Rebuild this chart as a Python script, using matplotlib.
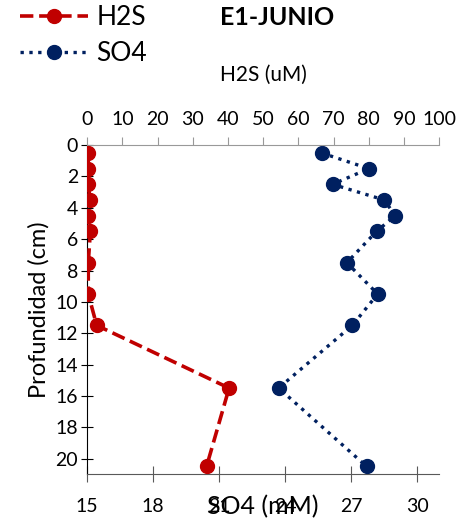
import matplotlib
matplotlib.use("Agg")
import matplotlib.pyplot as plt
import numpy as np

plt.rcParams["font.family"] = ["Lato", "DejaVu Sans"]

RED, NAVY = "#C00000", "#002060"

# depth profile, station E1 (June)
depth = [0.5, 1.5, 2.5, 3.5, 4.5, 5.5, 7.5, 9.5, 11.5, 15.5, 20.5]
h2s_um = [0.3, 0.3, 0.3, 0.8, 0.3, 0.9, 0.3, 0.3, 2.7, 40.3, 33.9]
so4_mm = [25.65, 27.8, 26.15, 28.5, 29.0, 28.15, 26.8, 28.2, 27.05, 23.7, 27.7]

h2s_ticks = np.arange(0, 101, 10)
so4_ticks = [15, 18, 21, 24, 27, 30]
depth_ticks = np.arange(0, 21, 2)

fig = plt.figure(figsize=(4.59, 5.22), dpi=100)
ax = fig.add_axes([0.190, 0.0914, 0.767, 0.6306])
ax2 = ax.twiny()

# SO4 on the bottom axis
l_so4, = ax.plot(so4_mm, depth, ":", color=NAVY, lw=2.4, marker="o", ms=10,
                 markeredgecolor=NAVY, label="SO4", zorder=3)
ax.set_xlim(15, 31)
ax.set_ylim(21, 0)
ax.set_xticks(so4_ticks)
ax.set_yticks(depth_ticks)
ax.tick_params(axis="x", direction="inout", length=12, color="0.35",
               labelsize=14, pad=11)
ax.tick_params(axis="y", direction="inout", length=9, color="black",
               labelsize=14, pad=2)
ax.spines["right"].set_visible(False)
ax.spines["top"].set_visible(False)
ax.spines["bottom"].set_color("0.35")
ax.spines["left"].set_color("black")
ax.set_xlabel("SO4 (mM)", fontsize=18, labelpad=-14)
ax.set_ylabel("Profundidad (cm)", fontsize=17, labelpad=4)

# H2S on the top axis
l_h2s, = ax2.plot(h2s_um, depth, "--", color=RED, lw=2.6, marker="o", ms=10,
                  markeredgecolor=RED, label="H2S", zorder=3)
ax2.set_xlim(0, 100)
ax2.set_xticks(h2s_ticks)
ax2.tick_params(axis="x", direction="out", length=6, color="0.6",
                labelsize=14, pad=6)
for s in ("right", "bottom", "left"):
    ax2.spines[s].set_visible(False)
ax2.spines["top"].set_color("0.6")
ax2.set_xlabel("H2S (uM)", fontsize=15, labelpad=22)

fig.text(0.603, 0.967, "E1-JUNIO", fontsize=18, fontweight="bold",
         ha="center", va="center")
fig.legend(handles=[l_h2s, l_so4], loc="upper left",
           bbox_to_anchor=(0.02, 1.01), frameon=False, fontsize=19,
           handlelength=2.6, handletextpad=0.3, labelspacing=0.4,
           borderaxespad=0)

fig.savefig("out.png", dpi=100)
